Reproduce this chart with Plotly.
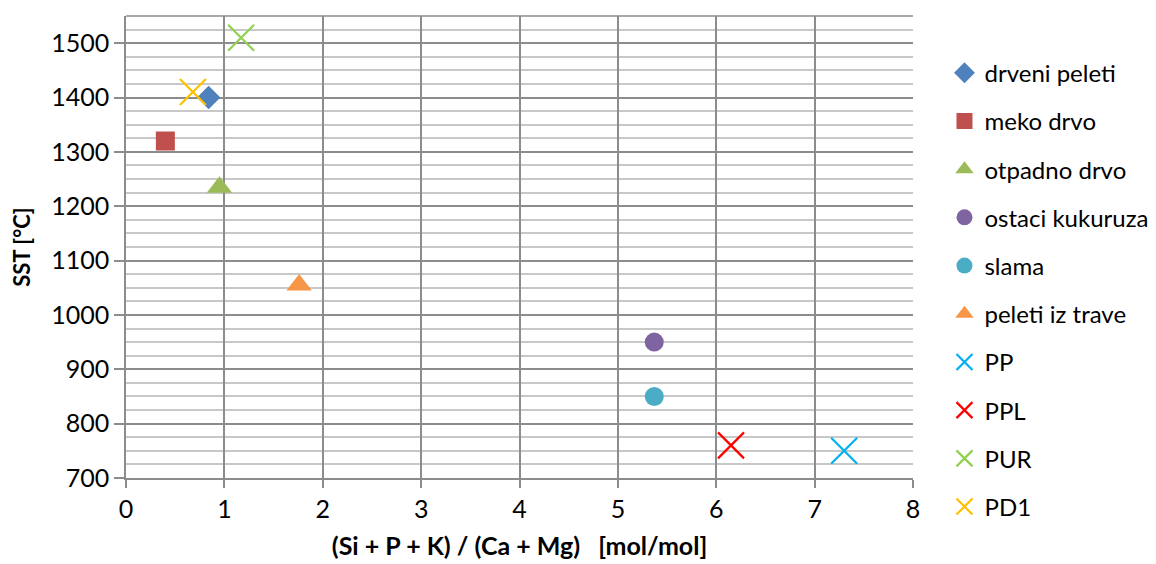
import plotly.graph_objects as go

names = ["drveni peleti", "meko drvo", "otpadno drvo", "ostaci kukuruza", "slama",
         "peleti iz trave", "PP", "PPL", "PUR", "PD1"]
x_vals = [0.84, 0.40, 0.95, 5.37, 5.37, 1.76, 7.30, 6.15, 1.17, 0.68]
y_vals = [1400, 1320, 1235, 950, 850, 1055, 750, 760, 1510, 1410]
colors = ["#4F81BD", "#C0504D", "#9BBB59", "#8064A2", "#4BACC6",
          "#F79646", "#00B0F0", "#FF0000", "#92D050", "#FFC000"]
symbols = ["diamond", "square", "triangle-up", "circle", "circle",
           "triangle-up", "x-thin", "x-thin", "x-thin", "x-thin"]
sizes = [18, 19, 22, 19, 19, 22, 26, 26, 26, 26]

fig = go.Figure()
for i, n in enumerate(names):
    marker = dict(symbol=symbols[i], size=sizes[i], color=colors[i])
    if symbols[i].startswith("x-thin"):
        marker["line"] = dict(color=colors[i], width=2.2)
    else:
        marker["line"] = dict(width=0)
    fig.add_trace(go.Scatter(x=[x_vals[i]], y=[y_vals[i]], mode="markers", name=n,
                             marker=marker, legendgroup=n))

font = "Lato, Open Sans, sans-serif"
fig.update_layout(
    width=1156, height=564,
    margin=dict(l=118, r=251, t=8, b=94),
    paper_bgcolor="white", plot_bgcolor="white",
    font=dict(family=font, size=25, color="black"),
    legend=dict(x=1.04, y=0.925, xanchor="left", yanchor="top",
                tracegroupgap=14, itemsizing="trace", maxheight=560,
                font=dict(size=24), itemwidth=30),
    xaxis=dict(range=[0, 8], dtick=1, showgrid=True, gridcolor="#8c8c8c", gridwidth=1.5,
               zeroline=False, showline=True, linecolor="#8c8c8c", linewidth=1.5,
               ticks="outside", ticklen=8, tickcolor="#8c8c8c", tickwidth=1.5,
               automargin=False,
               title=dict(text="<b>(Si + P + K) / (Ca + Mg) \u00a0\u00a0[mol/mol]</b>",
                          font=dict(size=25), standoff=16)),
    yaxis=dict(range=[700, 1550], tick0=700, dtick=100, showgrid=True, gridcolor="#8c8c8c",
               gridwidth=1.5, zeroline=False, showline=True, linecolor="#8c8c8c", linewidth=1.5,
               ticks="outside", ticklen=10, tickcolor="#8c8c8c", tickwidth=1.5,
               automargin=False,
               minor=dict(dtick=25, showgrid=True, gridcolor="#c8c8c8", gridwidth=1.5),
               title=dict(text="<b>SST [°C]</b>", font=dict(size=22), standoff=16)),
)
fig.add_shape(type="line", xref="paper", yref="paper", x0=0, x1=1, y0=1, y1=1,
              line=dict(color="#8c8c8c", width=1.5))
fig.write_html("out.html")
